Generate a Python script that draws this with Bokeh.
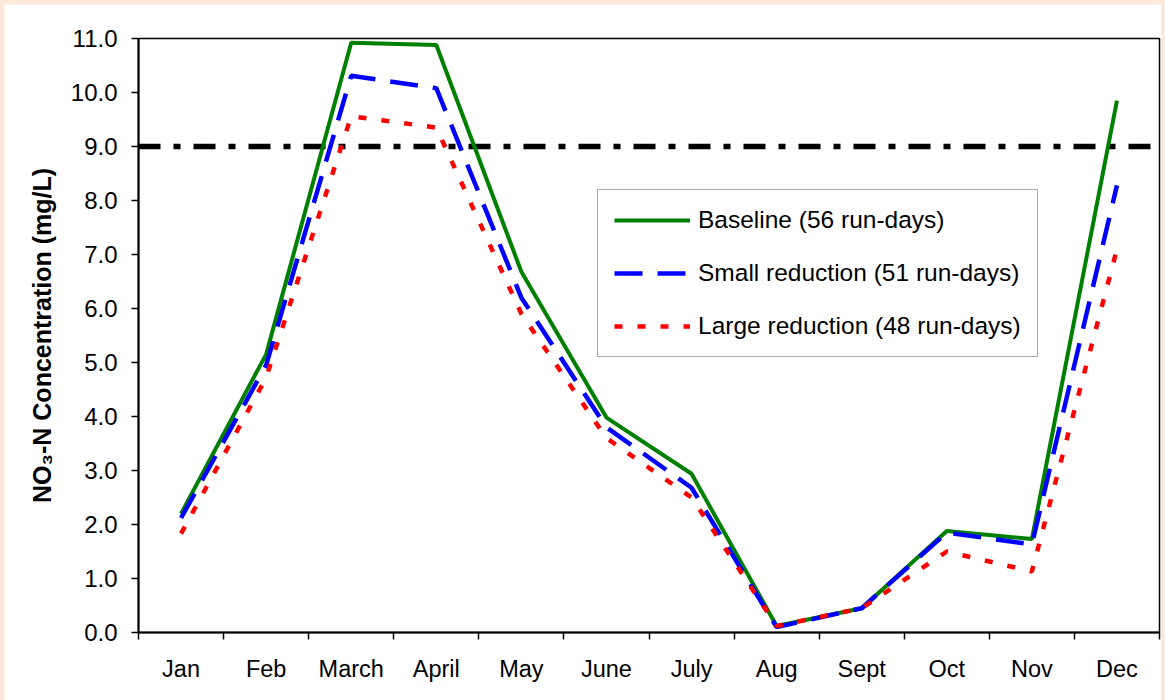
from bokeh.plotting import figure
from bokeh.models import FixedTicker, Legend, LegendItem, GlobalInlineStyleSheet
from bokeh.embed import file_html
from bokeh.resources import INLINE

months = ["Jan", "Feb", "March", "April", "May", "June", "July", "Aug", "Sept", "Oct", "Nov", "Dec"]
baseline = [2.20, 5.15, 10.92, 10.88, 6.68, 3.98, 2.94, 0.12, 0.45, 1.88, 1.73, 9.85]
small_red = [2.12, 4.95, 10.31, 10.08, 6.20, 3.80, 2.68, 0.10, 0.45, 1.85, 1.63, 8.28]
large_red = [1.83, 4.72, 9.56, 9.35, 5.90, 3.60, 2.50, 0.12, 0.45, 1.50, 1.13, 7.10]
threshold = 9.0
y_ticks = [0, 1, 2, 3, 4, 5, 6, 7, 8, 9, 10, 11]

x = [i + 0.5 for i in range(len(months))]

FONT = "Liberation Sans"

p = figure(width=1161, height=696, x_range=(0, 12), y_range=(0, 11),
           output_backend="svg", toolbar_location=None,
           min_border_left=134, min_border_right=6, min_border_top=34, min_border_bottom=68,
           background_fill_color="white", border_fill_color="white")
p.stylesheets = [GlobalInlineStyleSheet(css="body { margin: 4px !important; background-color: #FDE9DC; }")]

p.xgrid.visible = False
p.ygrid.visible = False
p.outline_line_color = "black"
p.outline_line_width = 1.5

# threshold line
p.line([0, 12], [threshold, threshold], line_color="black", line_width=5.5, line_dash="22 13 7 13")

r1 = p.line(x, baseline, line_color="#008000", line_width=4)
r2 = p.line(x, small_red, line_color="#0000FF", line_width=4.5, line_dash="28 15")
r3 = p.line(x, large_red, line_color="#FF0000", line_width=4.5, line_dash="8 15")

# axes
xa = p.xaxis[0]
xa.ticker = FixedTicker(ticks=x, minor_ticks=list(range(0, 13)))
xa.major_label_overrides = {xv: m for xv, m in zip(x, months)}
xa.major_tick_out = 0
xa.major_tick_in = 0
xa.minor_tick_out = 7
xa.minor_tick_in = 0
xa.minor_tick_line_color = "black"
xa.minor_tick_line_width = 1.5
xa.axis_line_color = "black"
xa.axis_line_width = 2
xa.major_label_text_font = FONT
xa.major_label_text_font_size = "23.5px"
xa.major_label_text_color = "black"
xa.major_label_standoff = 16

ya = p.yaxis[0]
ya.ticker = FixedTicker(ticks=y_ticks, minor_ticks=[])
ya.major_label_overrides = {t: "%.1f" % t for t in y_ticks}
ya.major_tick_out = 7
ya.major_tick_in = 0
ya.major_tick_line_color = "black"
ya.major_tick_line_width = 1.5
ya.axis_line_color = "black"
ya.axis_line_width = 2
ya.major_label_text_font = FONT
ya.major_label_text_font_size = "24px"
ya.major_label_text_color = "black"
ya.major_label_standoff = 14
ya.axis_label = "NO\u2083-N Concentration (mg/L)"
ya.axis_label_text_font = FONT
ya.axis_label_text_font_style = "bold"
ya.axis_label_text_font_size = "25px"
ya.axis_label_text_color = "black"
ya.axis_label_standoff = 12

legend = Legend(items=[
    LegendItem(label="Baseline (56 run-days)", renderers=[r1]),
    LegendItem(label="Small reduction (51 run-days)", renderers=[r2]),
    LegendItem(label="Large reduction (48 run-days)", renderers=[r3]),
], location=(459, 275))
legend.margin = 0
legend.padding = 16
legend.spacing = 25
legend.glyph_width = 76
legend.glyph_height = 24
legend.label_height = 24
legend.label_standoff = 8
legend.label_text_font = FONT
legend.label_text_font_size = "24.5px"
legend.label_text_color = "black"
legend.border_line_color = "#555555"
legend.border_line_width = 1
legend.background_fill_color = "white"
legend.background_fill_alpha = 1.0
p.add_layout(legend)

open("out.html", "w").write(file_html(p, INLINE))
